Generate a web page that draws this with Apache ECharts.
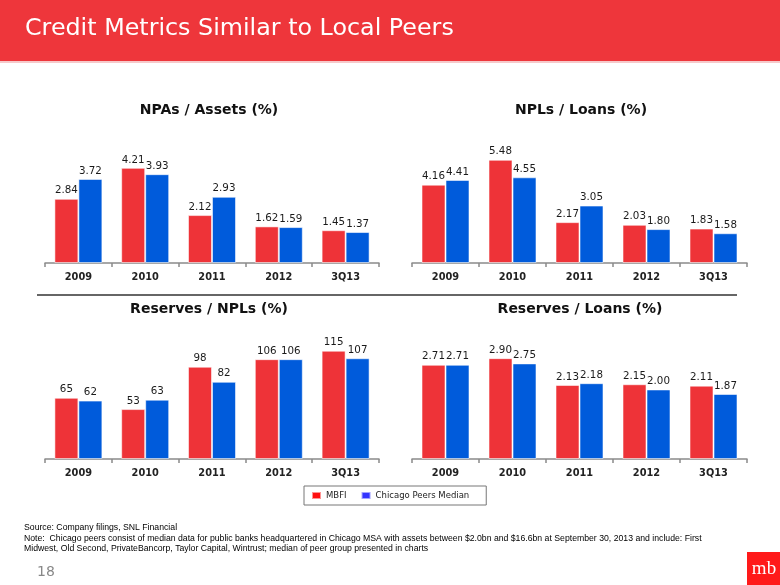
<!DOCTYPE html>
<html>
<head>
<meta charset="utf-8">
<script src="https://cdn.jsdelivr.net/npm/echarts@6/dist/echarts.min.js"></script>
<style>
html,body{margin:0;padding:0;background:#fff;}
#c{width:780px;height:585px;}
</style>
</head>
<body>
<div id="c"></div>
<script>
const categories = ['2009', '2010', '2011', '2012', '3Q13'];
const seriesNames = ['MBFI', 'Chicago Peers Median'];
const chartTitles = ['NPAs / Assets (%)', 'NPLs / Loans (%)', 'Reserves / NPLs (%)', 'Reserves / Loans (%)'];

const npaAssetsMBFI = [2.84, 4.21, 2.12, 1.62, 1.45];
const npaAssetsPeers = [3.72, 3.93, 2.93, 1.59, 1.37];
const nplLoansMBFI = [4.16, 5.48, 2.17, 2.03, 1.83];
const nplLoansPeers = [4.41, 4.55, 3.05, 1.80, 1.58];
const reservesNplsMBFI = [65, 53, 98, 106, 115];
const reservesNplsPeers = [62, 63, 82, 106, 107];
const reservesLoansMBFI = [2.71, 2.90, 2.13, 2.15, 2.11];
const reservesLoansPeers = [2.71, 2.75, 2.18, 2.00, 1.87];

const panels = [
  {mbfi: npaAssetsMBFI, peers: npaAssetsPeers, max: 5, dec: 2},
  {mbfi: nplLoansMBFI, peers: nplLoansPeers, max: 6, dec: 2},
  {mbfi: reservesNplsMBFI, peers: reservesNplsPeers, max: 120, dec: 0},
  {mbfi: reservesLoansMBFI, peers: reservesLoansPeers, max: 3.25, dec: 2}
];

const RED = '#EE3338', BLUE = '#005BDB';
const FONT = 'DejaVu Sans';

const gridPos = [
  {left: 45, top: 150, width: 334, height: 113},
  {left: 412, top: 150, width: 335, height: 113},
  {left: 45, top: 346, width: 334, height: 113},
  {left: 412, top: 346, width: 335, height: 113}
];
const titlePos = [
  {x: 209, y: 103}, {x: 581, y: 103}, {x: 209, y: 302}, {x: 580, y: 302}
];

const grids = [], xAxes = [], yAxes = [], series = [], titles = [];

titles.push({
  text: 'Credit Metrics Similar to Local Peers',
  left: 25, top: 17,
  padding: 0,
  textStyle: {color: '#fff', fontFamily: FONT, fontSize: 23.8, fontWeight: 'normal'}
});

panels.forEach((p, i) => {
  grids.push(Object.assign({containLabel: false}, gridPos[i]));
  xAxes.push({
    type: 'category', gridIndex: i, data: categories,
    axisLine: {lineStyle: {color: '#8a8a8a', width: 1.5}},
    axisTick: {show: true, length: 4, lineStyle: {color: '#8a8a8a', width: 1.5}},
    axisLabel: {margin: 9, color: '#222', fontFamily: FONT, fontWeight: 'bold', fontSize: 9.8}
  });
  yAxes.push({
    type: 'value', gridIndex: i, min: 0, max: p.max, show: false,
    splitLine: {show: false}
  });
  [p.mbfi, p.peers].forEach((vals, k) => {
    series.push({
      name: seriesNames[k], type: 'bar', xAxisIndex: i, yAxisIndex: i,
      data: vals, barWidth: 24, barGap: '0%',
      itemStyle: {color: k === 0 ? RED : BLUE, borderColor: 'rgba(255,255,255,0.55)', borderWidth: 1},
      label: {
        show: true, position: 'top', distance: 3,
        color: '#1a1a1a', fontFamily: FONT, fontSize: 10.3,
        formatter: (q) => q.value.toFixed(p.dec)
      },
      emphasis: {disabled: true},
      animation: false
    });
  });
  titles.push({
    text: chartTitles[i],
    left: titlePos[i].x, top: titlePos[i].y,
    textAlign: 'center', padding: 0,
    textStyle: {color: '#111', fontFamily: FONT, fontWeight: 'bold', fontSize: 14}
  });
});

const option = {
  animation: false,
  backgroundColor: '#fff',
  title: titles,
  grid: grids,
  xAxis: xAxes,
  yAxis: yAxes,
  series: series,
  legend: {
    left: 304, top: 486,
    data: [
      {name: 'MBFI', itemStyle: {color: '#FF1010'}},
      {name: 'Chicago Peers Median', itemStyle: {color: '#3535FF'}}
    ],
    icon: 'rect', itemWidth: 9, itemHeight: 7, itemGap: 14,
    padding: [5, 17, 5, 7],
    borderColor: '#777', borderWidth: 1,
    selectedMode: false,
    textStyle: {fontFamily: FONT, fontSize: 8.5, color: '#222'}
  },
  graphic: [
    {type: 'rect', shape: {x: 0, y: 0, width: 780, height: 61}, style: {fill: '#EE363B'}, z: -1},
    {type: 'rect', shape: {x: 0, y: 61, width: 780, height: 2}, style: {fill: '#F6C9CA'}, z: -1},
    {type: 'line', shape: {x1: 37, y1: 295, x2: 737, y2: 295}, style: {stroke: '#333', lineWidth: 1.6}},
    {type: 'text', x: 24, y: 523, style: {text: 'Source: Company filings, SNL Financial', font: '8.7px "Liberation Sans"', fill: '#000'}},
    {type: 'text', x: 24, y: 534, style: {text: 'Note:  Chicago peers consist of median data for public banks headquartered in Chicago MSA with assets between $2.0bn and $16.6bn at September 30, 2013 and include: First', font: '8.7px "Liberation Sans"', fill: '#000'}},
    {type: 'text', x: 24, y: 544.5, style: {text: 'Midwest, Old Second, PrivateBancorp, Taylor Capital, Wintrust; median of peer group presented in charts', font: '8.7px "Liberation Sans"', fill: '#000'}},
    {type: 'text', x: 37, y: 565, style: {text: '18', font: '14px "DejaVu Sans"', fill: '#888'}},
    {type: 'rect', shape: {x: 747, y: 552, width: 33, height: 33}, style: {fill: '#FF1A1A'}},
    {type: 'text', x: 764, y: 569, style: {text: 'mb', font: '19px "Liberation Serif"', fill: '#fff', align: 'center', verticalAlign: 'middle'}}
  ]
};

const chart = echarts.init(document.getElementById('c'), null, {renderer: 'canvas'});
chart.setOption(option);
</script>
</body>
</html>
